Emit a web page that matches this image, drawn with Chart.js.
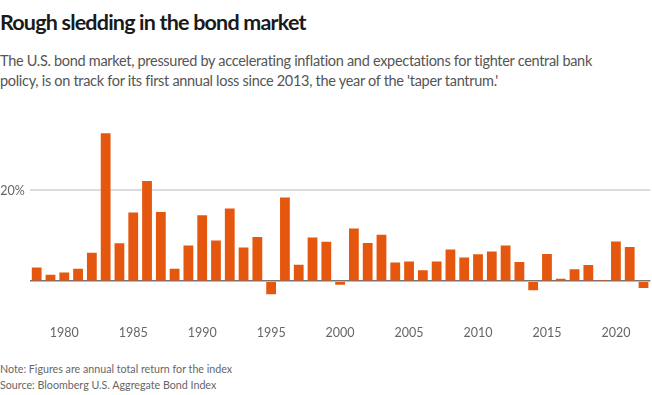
<!DOCTYPE html>
<html>
<head>
<meta charset="utf-8">
<script src="https://cdn.jsdelivr.net/npm/chart.js@4.4.1/dist/chart.umd.min.js"></script>
<style>
  body { margin: 0; background: #fff; font-family: "Lato", "Open Sans", sans-serif; width: 652px; height: 395px; overflow: hidden; position: relative; }
  h1 { position: absolute; left: 0; top: 9px; margin: 0; font-size: 21.5px; font-weight: 700; color: #1a1a1a; letter-spacing: -0.8px; }
  .sub { position: absolute; left: 0; top: 51px; margin: 0; font-size: 14.5px; line-height: 20px; color: #555; font-weight: 400; letter-spacing: -0.3px; }
  .notes { position: absolute; left: 0; top: 361px; font-size: 10.7px; line-height: 15.5px; color: #666; }
  #wrap { position: absolute; left: 0; top: 110px; width: 652px; height: 235px; }
</style>
</head>
<body>
<h1>Rough sledding in the bond market</h1>
<p class="sub">The U.S. bond market, pressured by accelerating inflation and expectations for tighter central bank<br>policy, is on track for its first annual loss since 2013, the year of the 'taper tantrum.'</p>
<div id="wrap"><canvas id="chart"></canvas></div>
<div class="notes">Note: Figures are annual total return for the index<br>Source: Bloomberg U.S. Aggregate Bond Index</div>
<script>
const years = [];
for (let y = 1978; y <= 2022; y++) years.push(String(y));

// annual total return, %
const returns = [
  3.03, 1.39, 1.93, 2.71, 6.25, 32.62, 8.36, 15.15, 22.10, 15.26,
  2.76, 7.89, 14.53, 8.96, 16.00, 7.40, 9.75, -2.92, 18.47, 3.63,
  9.65, 8.69, -0.82, 11.63, 8.44, 10.26, 4.10, 4.34, 2.43, 4.33,
  6.97, 5.24, 5.93, 6.54, 7.84, 4.21, -2.02, 5.97, 0.55, 2.65,
  3.54, 0.01, 8.72, 7.51, -1.54
];

const yTicks = [0, 20];

new Chart(document.getElementById("chart"), {
  type: "bar",
  data: {
    labels: years,
    datasets: [{
      data: returns,
      backgroundColor: "#e5570f",
      borderWidth: 0,
      categoryPercentage: 1,
      barPercentage: 0.71
    }]
  },
  options: {
    responsive: true,
    maintainAspectRatio: false,
    animation: false,
    layout: { padding: { top: 10, right: 1.6, left: 0, bottom: 0 } },
    plugins: { legend: { display: false }, tooltip: { enabled: false } },
    scales: {
      x: {
        grid: { display: false, drawTicks: false },
        border: { display: false },
        ticks: {
          autoSkip: false,
          maxRotation: 0,
          padding: 8,
          color: "#666",
          font: { family: "Lato", size: 12.5 },
          callback: function (v) {
            const y = +this.getLabelForValue(v);
            return y % 5 === 0 ? String(y) : "";
          }
        },
        afterFit: s => { s.height = 27.6; }
      },
      y: {
        min: -8,
        max: 35,
        afterBuildTicks: s => { s.ticks = yTicks.map(v => ({ value: v })); },
        afterFit: s => { s.width = 29.8; },
        border: { display: false },
        grid: {
          drawTicks: false,
          color: c => c.tick.value === 0 ? "#777" : "#dcdcdc",
          lineWidth: c => c.tick.value === 0 ? 1.5 : 2
        },
        ticks: {
          padding: 5,
          color: "#666",
          font: { family: "Lato", size: 12.5 },
          callback: v => v === 0 ? "" : v + "%"
        }
      }
    }
  }
});
</script>
</body>
</html>
